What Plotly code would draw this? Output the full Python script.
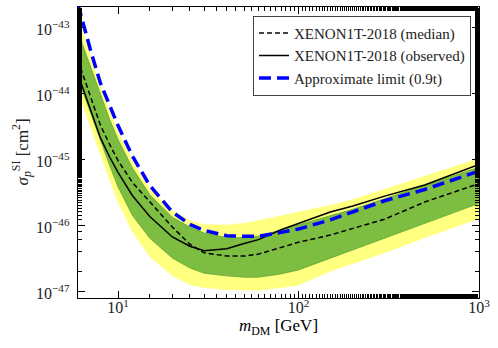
import plotly.graph_objects as go

# DM mass grid [GeV]
MASS = [6, 7, 8, 9, 10, 12, 15, 20, 25, 30, 40, 50, 60, 80, 100, 150, 200, 300, 500, 1000]

# log10 of cross section [cm^2]
LOG_YELLOW_UP = [-42.85, -43.40, -43.91, -44.27, -44.58, -45.02, -45.45, -45.78, -45.93, -45.99,
                 -46.00, -45.97, -45.93, -45.86, -45.80, -45.70, -45.61, -45.45, -45.26, -44.99]
LOG_GREEN_UP = [-43.07, -43.58, -44.03, -44.40, -44.70, -45.13, -45.54, -45.88, -46.03, -46.12,
                -46.19, -46.19, -46.17, -46.07, -45.99, -45.86, -45.76, -45.60, -45.40, -45.12]
LOG_GREEN_LO = [-43.77, -44.28, -44.73, -45.10, -45.42, -45.85, -46.20, -46.50, -46.65, -46.73,
                -46.77, -46.79, -46.79, -46.74, -46.68, -46.50, -46.38, -46.20, -45.97, -45.67]
LOG_YELLOW_LO = [-43.98, -44.50, -44.94, -45.32, -45.65, -46.10, -46.48, -46.77, -46.90, -46.95,
                 -46.98, -46.99, -46.99, -46.95, -46.91, -46.70, -46.58, -46.42, -46.19, -45.90]
LOG_MEDIAN = [-43.50, -44.03, -44.49, -44.78, -45.02, -45.35, -45.65, -46.03, -46.29, -46.42,
              -46.47, -46.47, -46.44, -46.34, -46.26, -46.15, -46.05, -45.91, -45.65, -45.37]
LOG_OBSERVED = [-43.71, -44.23, -44.68, -44.97, -45.20, -45.55, -45.87, -46.18, -46.32, -46.39,
                -46.36, -46.28, -46.22, -46.07, -45.97, -45.80, -45.71, -45.56, -45.39, -45.08]
LOG_APPROX = [-42.65, -43.32, -43.85, -44.20, -44.49, -44.95, -45.40, -45.80, -45.99, -46.08,
              -46.16, -46.17, -46.17, -46.11, -46.06, -45.92, -45.80, -45.63, -45.46, -45.18]

X_TICKS = [10, 100, 1000]
X_TICK_TEXT = ["10<sup>1</sup>", "10<sup>2</sup>", "10<sup>3</sup>"]
Y_TICK_EXP = [-47, -46, -45, -44, -43]
Y_TICK_TEXT = ["10<sup>\u221247</sup>", "10<sup>\u221246</sup>", "10<sup>\u221245</sup>",
               "10<sup>\u221244</sup>", "10<sup>\u221243</sup>"]

YELLOW = "#ffff80"
GREEN = "#7dbd42"
FONT = "Liberation Serif, DejaVu Serif, serif"


def lin(vals):
    return [10 ** v for v in vals]


fig = go.Figure()

# 2 sigma band
fig.add_trace(go.Scatter(x=MASS, y=lin(LOG_YELLOW_LO), mode="lines",
                         line=dict(color=YELLOW, width=0.5), showlegend=False, hoverinfo="skip"))
fig.add_trace(go.Scatter(x=MASS, y=lin(LOG_YELLOW_UP), mode="lines", fill="tonexty",
                         fillcolor=YELLOW, line=dict(color=YELLOW, width=0.5),
                         showlegend=False, hoverinfo="skip"))
# 1 sigma band
fig.add_trace(go.Scatter(x=MASS, y=lin(LOG_GREEN_LO), mode="lines",
                         line=dict(color="#5ea82e", width=0.8), showlegend=False, hoverinfo="skip"))
fig.add_trace(go.Scatter(x=MASS, y=lin(LOG_GREEN_UP), mode="lines", fill="tonexty",
                         fillcolor=GREEN, line=dict(color="#5ea82e", width=0.8),
                         showlegend=False, hoverinfo="skip"))

fig.add_trace(go.Scatter(x=MASS, y=lin(LOG_MEDIAN), mode="lines", name="XENON1T-2018 (median)",
                         line=dict(color="black", width=1.5, dash="5px,3px")))
fig.add_trace(go.Scatter(x=MASS, y=lin(LOG_OBSERVED), mode="lines", name="XENON1T-2018 (observed)",
                         line=dict(color="black", width=1.5)))
fig.add_trace(go.Scatter(x=MASS, y=lin(LOG_APPROX), mode="lines", name="Approximate limit (0.9t)",
                         line=dict(color="#0000ff", width=3.5, dash="12px,6px")))

axis_common = dict(
    showline=True, linecolor="black", linewidth=1.2, mirror="allticks",
    ticks="inside", ticklen=7, tickwidth=1, tickcolor="black",
    showgrid=False, zeroline=False,
    minor=dict(ticks="inside", ticklen=4, tickwidth=1, tickcolor="black", showgrid=False),
    tickfont=dict(family=FONT, size=16, color="#222"),
)

fig.update_xaxes(type="log", range=[0.7782, 3.0], tickvals=X_TICKS, ticktext=X_TICK_TEXT,
                 ticklabelstandoff=-5,
                 title=dict(text="<i>m</i><sub>DM</sub> [GeV]", font=dict(family=FONT, size=17),
                            standoff=0),
                 **axis_common)
# y tick labels are drawn as annotations so they can sit close to the axis
fig.update_yaxes(type="log", range=[-47.106, -42.69], tickvals=lin(Y_TICK_EXP),
                 showticklabels=False, **axis_common)

for e, txt in zip(Y_TICK_EXP, Y_TICK_TEXT):
    fig.add_annotation(x=0, xref="paper", y=e, yref="y", text=txt, showarrow=False,
                       xanchor="right", yanchor="middle", xshift=-6, yshift=-1,
                       font=dict(family=FONT, size=16, color="#222"))

fig.add_annotation(x=0, xref="paper", y=0.5, yref="paper", xshift=-56, textangle=-90,
                   text="<i>\u03c3</i><sub><i>p</i></sub><sup>SI</sup> [cm<sup>2</sup>]",
                   showarrow=False, xanchor="center", yanchor="middle",
                   font=dict(family=FONT, size=17, color="#222"))

fig.update_layout(
    width=498, height=348,
    margin=dict(l=78, r=19, t=7, b=50),
    plot_bgcolor="white", paper_bgcolor="white",
    font=dict(family=FONT, size=14, color="black"),
    legend=dict(x=0.98, y=0.97, xanchor="right", yanchor="top", traceorder="normal",
                bgcolor="white", bordercolor="#444", borderwidth=1,
                font=dict(family=FONT, size=15, color="#222"),
                tracegroupgap=0, itemwidth=30),
)

fig.write_html("out.html", config={"displayModeBar": False},
               post_script="document.body.style.margin='0';")
